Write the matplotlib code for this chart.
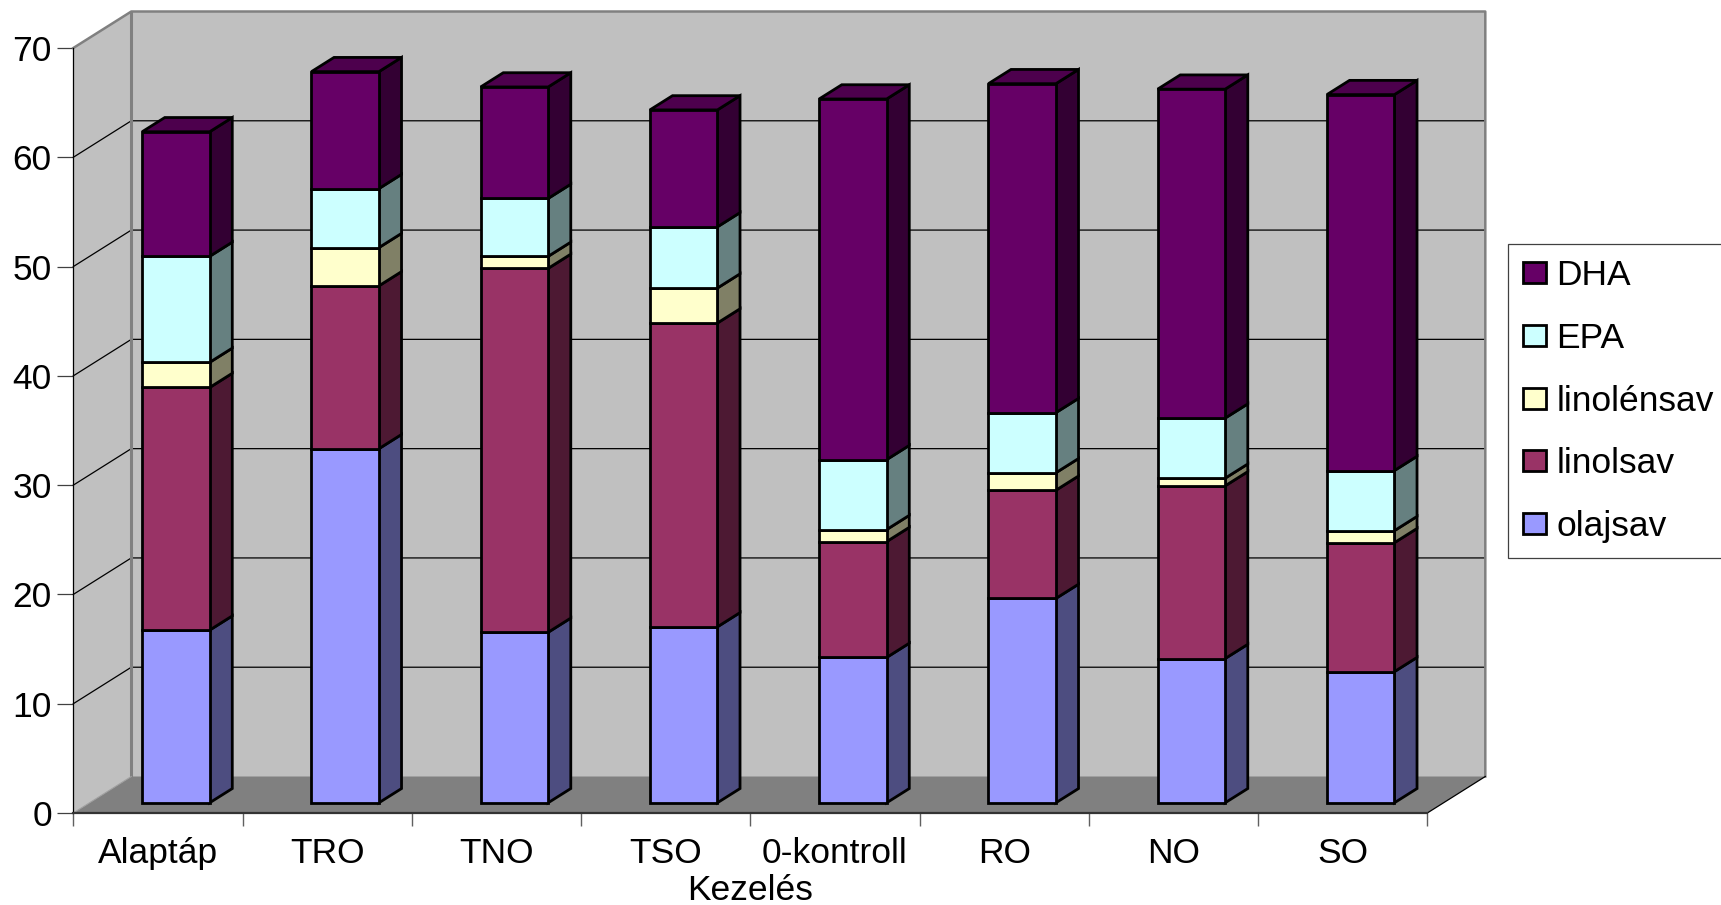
import matplotlib
matplotlib.use("Agg")
import matplotlib.pyplot as plt
import numpy as np

plt.rcParams['font.family'] = ['Liberation Sans', 'DejaVu Sans']

categories = ["Alaptáp", "TRO", "TNO", "TSO", "0-kontroll", "RO", "NO", "SO"]
olajsav = [15.8, 32.4, 15.6, 16.1, 13.3, 18.7, 13.2, 12.0]
linolsav = [22.2, 14.9, 33.3, 27.8, 10.6, 9.9, 15.8, 11.8]
linolensav = [2.3, 3.5, 1.1, 3.2, 1.1, 1.6, 0.7, 1.1]
epa = [9.7, 5.4, 5.3, 5.6, 6.4, 5.5, 5.5, 5.5]
dha = [11.4, 10.7, 10.2, 10.7, 33.0, 30.1, 30.1, 34.4]
y_ticks = [0, 10, 20, 30, 40, 50, 60, 70]

series_names = ["olajsav", "linolsav", "linolénsav", "EPA", "DHA"]
series_values = [olajsav, linolsav, linolensav, epa, dha]
front_colors = ["#9999FF", "#993366", "#FFFFCC", "#CCFFFF", "#660066"]
side_colors = ["#4D4D80", "#4D1933", "#808066", "#668080", "#330033"]
top_color = "#4D004D"

W, H = 1721, 905
fig = plt.figure(figsize=(W / 100, H / 100), dpi=100)
ax = fig.add_axes([73.3 / W, (H - 813) / H, 1354 / W, 765 / H])
ax.set_xlim(0, len(categories))
ax.set_ylim(0, 70)
ax.patch.set_visible(False)

# oblique depth of the fake 3D box, in data units
DEPTH_X = 58 / 169.25
DEPTH_Y = 36.5 / 10.93
BAR_WIDTH = 67.5 / 169.25
BAR_FRONT_X = 0.31
BAR_FRONT_Y = 0.28
BAR_DEPTH = 0.39
n = len(categories)
WALL = "#C0C0C0"
FLOOR = "#808080"
FONT = 25.5
BAR_LW = 2.0


def dp(x, y, d):
    return x + d * DEPTH_X, y + d * DEPTH_Y


def face(pts, **kw):
    xs, ys = zip(*pts)
    ax.fill(xs, ys, clip_on=False, **kw)


# walls and floor
face([dp(0, 0, 1), dp(n, 0, 1), dp(n, 70, 1), dp(0, 70, 1)], color=WALL, lw=0, zorder=1)
face([dp(0, 0, 0), dp(0, 0, 1), dp(0, 70, 1), dp(0, 70, 0)], color=WALL, lw=0, zorder=1)
face([dp(0, 0, 0), dp(n, 0, 0), dp(n, 0, 1), dp(0, 0, 1)], color=FLOOR, lw=0, zorder=1)

# grid on back and side wall
for t in y_ticks[1:-1]:
    ax.plot(*zip(dp(0, t, 0), dp(0, t, 1), dp(n, t, 1)), color="black", lw=0.9,
            clip_on=False, zorder=2, solid_joinstyle="miter")

# wall outline
ax.plot(*zip(dp(0, 70, 0), dp(0, 70, 1), dp(n, 70, 1), dp(n, 0, 1)), color="#808080", lw=1.8,
        clip_on=False, zorder=2)
ax.plot(*zip(dp(0, 0, 1), dp(0, 70, 1)), color="#808080", lw=2.2, clip_on=False, zorder=2)
ax.plot(*zip(dp(n, 0, 0), dp(n, 0, 1)), color="black", lw=0.9, clip_on=False, zorder=2)
ax.plot(*zip(dp(0, 0, 0), dp(0, 0, 1)), color="#A0A0A0", lw=0.8, clip_on=False, zorder=2)

# stacked bars
centers = np.arange(n) + 0.5 + BAR_FRONT_X * DEPTH_X
base = np.full(n, BAR_FRONT_Y * DEPTH_Y)
handles = []
d_dx = BAR_DEPTH * DEPTH_X
d_dy = BAR_DEPTH * DEPTH_Y
for name, vals, fc, sc in zip(series_names, series_values, front_colors, side_colors):
    vals = np.array(vals)
    bars = ax.bar(centers, vals, BAR_WIDTH, bottom=base, color=fc, edgecolor="black", lw=BAR_LW,
                  label=name, clip_on=False, zorder=4)
    handles.append(bars)
    for c, b, v in zip(centers, base, vals):
        r = c + BAR_WIDTH / 2
        face([(r, b), (r + d_dx, b + d_dy), (r + d_dx, b + v + d_dy), (r, b + v)],
             facecolor=sc, edgecolor="black", lw=BAR_LW, zorder=3, joinstyle="miter")
    base = base + vals

for c, b in zip(centers, base):
    l, r = c - BAR_WIDTH / 2, c + BAR_WIDTH / 2
    face([(l, b), (r, b), (r + d_dx, b + d_dy), (l + d_dx, b + d_dy)],
         facecolor=top_color, edgecolor="black", lw=BAR_LW, zorder=3, joinstyle="miter")

# axes
for s in ["top", "right"]:
    ax.spines[s].set_visible(False)
ax.spines["left"].set_color("black")
ax.spines["left"].set_linewidth(0.9)
ax.spines["bottom"].set_color("#333333")
ax.spines["bottom"].set_linewidth(1.6)

ax.set_yticks(y_ticks)
ax.tick_params(axis="y", length=11.5, width=0.9, color="#404040", pad=4, labelsize=FONT)
ax.set_xticks(np.arange(n + 1))
ax.set_xticklabels([])
ax.tick_params(axis="x", which="major", length=9.5, width=1.0, color="#606060")
ax.set_xticks(np.arange(n) + 0.5, minor=True)
ax.set_xticklabels(categories, minor=True)
ax.tick_params(axis="x", which="minor", length=0, pad=17.5, labelsize=FONT)
ax.set_xlabel("Kezelés", fontsize=FONT, labelpad=3)

leg = ax.legend(handles[::-1], series_names[::-1], loc="upper left",
                bbox_to_anchor=(1508.3 / W, (H - 244.3) / H), bbox_transform=fig.transFigure,
                borderaxespad=0, fontsize=FONT, frameon=True, fancybox=False, framealpha=1,
                edgecolor="#404040", handlelength=0.64, handleheight=0.54, handletextpad=0.3,
                labelspacing=0.84, borderpad=0.42)
leg.get_frame().set_linewidth(0.9)

fig.savefig("out.png", dpi=100)
